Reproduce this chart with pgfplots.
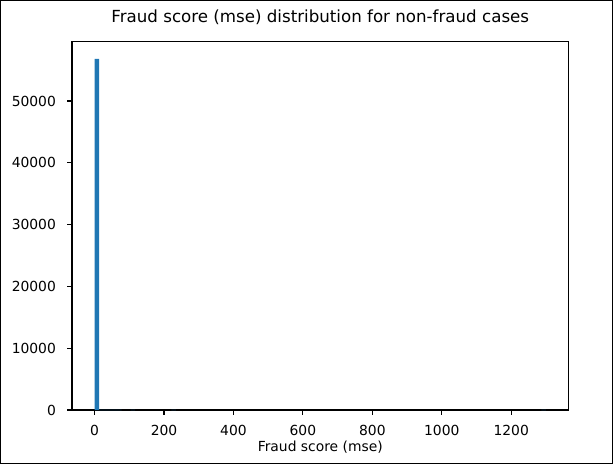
\documentclass[border=0pt]{standalone}
\usepackage{pgfplots}
\pgfplotsset{compat=1.18}
\usepackage{fontspec}
\setmainfont{DejaVu Sans}
\definecolor{mplblue}{HTML}{1F77B4}

\begin{document}
% 1 px of the reference = 0.75pt here
\begin{tikzpicture}[x=0.75pt,y=0.75pt]
  \useasboundingbox (0,0) rectangle (613,464);
  \draw[line width=0.75pt] (0.5,0.5) rectangle (612.5,463.5);
  \begin{axis}[
      at={(72pt*0.75,54pt*0.75)},
      anchor=south west,
      scale only axis,
      width=372.4pt, height=276.4pt,
      xmin=-65, xmax=1365,
      ymin=0, ymax=59640,
      xtick={0,200,400,600,800,1000,1200},
      ytick={0,10000,20000,30000,40000,50000},
      scaled y ticks=false,
      /pgf/number format/.cd, set thousands separator={}, assume math mode=true,
      /pgfplots/.cd,
      tick align=outside,
      major tick length=3.65pt,
      tick style={black, line width=0.83pt},
      axis line style={line width=0.83pt},
      xtick pos=bottom, ytick pos=left,
      ticklabel style={font=\fontsize{10.4}{12}\selectfont},
      xticklabel style={anchor=base, yshift=-15.75pt},
      yticklabel style={anchor=east, inner sep=0pt, xshift=-8.25pt},
      xlabel={Fraud score (mse)},
      xlabel style={font=\fontsize{10.4}{12}\selectfont,
        at={(rel axis cs:0.5,0)}, anchor=base, yshift=-30.75pt},
      title={Fraud score (mse) distribution for non-fraud cases},
      title style={font=\fontsize{12.5}{14}\selectfont,
        at={(rel axis cs:0.5,1)}, anchor=base, yshift=7.9pt},
    ]
    % histogram, 100 bins of width 13 (bin centres)
    \addplot[ybar, bar width=13, bar shift=0, fill=mplblue, draw=none]
      coordinates {
        (6.5,56820) (19.5,28) (32.5,9) (45.5,4) (58.5,2) (71.5,1)
        (110.5,1) (227.5,1) (1293.5,1)
      };
  \end{axis}
\end{tikzpicture}
\end{document}
